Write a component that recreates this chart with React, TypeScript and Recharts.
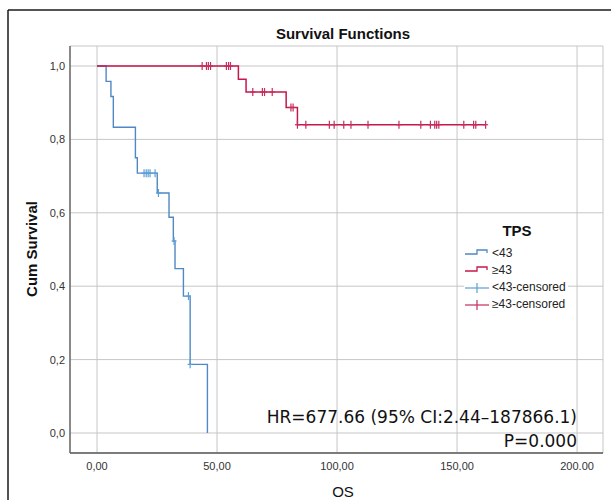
import { ComposedChart, Line, Scatter, XAxis, YAxis, CartesianGrid } from "recharts";

// axis ticks
const xTicks = [0, 50, 100, 150, 200];
const xTickLabels = ["0,00", "50,00", "100,00", "150,00", "200.00"];
const yTicks = [0, 0.2, 0.4, 0.6, 0.8, 1.0];
const yTickLabels = ["0,0", "0,2", "0,4", "0,6", "0,8", "1,0"];

// TPS < 43 : step points (time, cum survival)
const lowTimes = [0, 3.8, 5.8, 6.8, 16.0, 16.8, 25.1, 30.0, 31.8, 32.5, 36.0, 38.8, 46.0];
const lowSurv = [1.0, 0.958, 0.917, 0.833, 0.75, 0.708, 0.654, 0.588, 0.523, 0.448, 0.373, 0.187, 0.0];
const lowCensorTimes = [19.6, 20.5, 21.3, 22.1, 24.2, 25.6, 32.1, 38.1, 38.8];
const lowCensorSurv = [0.708, 0.708, 0.708, 0.708, 0.708, 0.654, 0.523, 0.373, 0.187];

// TPS >= 43
const highTimes = [0, 58.9, 62.1, 78.8, 83.5, 161.9];
const highSurv = [1.0, 0.964, 0.929, 0.887, 0.84, 0.84];
const highCensorTimes = [
  43.8, 45.6, 46.4, 47.3, 53.9, 54.8, 55.6, 64.9, 68.9, 69.8, 73.0, 80.8, 81.7, 83.5, 87.0, 96.8,
  98.8, 102.8, 105.8, 112.9, 125.8, 134.9, 138.9, 140.7, 141.5, 142.4, 152.8, 156.9, 157.8, 161.9,
];
const highCensorSurv = [
  1, 1, 1, 1, 1, 1, 1, 0.929, 0.929, 0.929, 0.929, 0.887, 0.887, 0.84, 0.84, 0.84, 0.84, 0.84,
  0.84, 0.84, 0.84, 0.84, 0.84, 0.84, 0.84, 0.84, 0.84, 0.84, 0.84, 0.84,
];

const legendLabels = ["<43", "≥43", "<43-censored", "≥43-censored"];

const BLUE = "#4f88c4";
const BLUE_CENSOR = "#5c9fd6";
const RED = "#c8174a";
const RED_CENSOR = "#c42e5e";
const TICK_FONT = "'Liberation Sans', Arial, sans-serif";

const toPoints = (ts: number[], ss: number[]) => ts.map((t, i) => ({ t, s: ss[i] }));

function censorShape(color: string) {
  return (props: any) => {
    const { cx, cy } = props;
    return (
      <g stroke={color} strokeWidth={1.2}>
        <line x1={cx} y1={cy - 4} x2={cx} y2={cy + 4} />
        <line x1={cx - 2.5} y1={cy} x2={cx + 2.5} y2={cy} />
      </g>
    );
  };
}

function Overlay() {
  const rowY = [257, 274, 291, 308];
  const colors = [BLUE, RED, BLUE_CENSOR, RED_CENSOR];
  return (
    <svg
      width={611}
      height={500}
      style={{ position: "absolute", left: 0, top: 0, pointerEvents: "none" }}
    >
      <line x1={8} y1={10} x2={611} y2={10} stroke="#1a1a1a" strokeWidth={1.5} />
      <line x1={8} y1={10} x2={8} y2={500} stroke="#1a1a1a" strokeWidth={1.5} />

      <text x={343} y={39} textAnchor="middle" fontFamily={TICK_FONT} fontSize={15} fontWeight="bold" fill="#111">
        Survival Functions
      </text>
      <text
        transform="translate(37,249) rotate(-90)"
        textAnchor="middle"
        fontFamily={TICK_FONT}
        fontSize={15}
        fontWeight="bold"
        fill="#111"
      >
        Cum Survival
      </text>
      <text x={343} y={497} textAnchor="middle" fontFamily={TICK_FONT} fontSize={15} fill="#111">
        OS
      </text>

      {/* legend */}
      <rect x={464} y={217} width={104} height={100} fill="#fff" />
      <text x={517} y={236} textAnchor="middle" fontFamily={TICK_FONT} fontSize={15} fontWeight="bold" fill="#111">
        TPS
      </text>
      {legendLabels.map((label, i) => {
        const y = rowY[i];
        const c = colors[i];
        return (
          <g key={label}>
            {i < 2 ? (
              <path d={`M465,${y - 3} H477 V${y - 7} H487 V${y - 4}`} fill="none" stroke={c} strokeWidth={1.3} />
            ) : (
              <g stroke={c} strokeWidth={1.2}>
                <line x1={465} y1={y - 3} x2={489} y2={y - 3} />
                <line x1={477} y1={y - 8} x2={477} y2={y + 2} />
              </g>
            )}
            <text x={492} y={y} fontFamily={TICK_FONT} fontSize={12} fill="#222">
              {label}
            </text>
          </g>
        );
      })}

      <text x={577} y={423} textAnchor="end" fontFamily="'DejaVu Sans', sans-serif" fontSize={17} fill="#111">
        HR=677.66 (95% CI:2.44–187866.1)
      </text>
      <text x={577} y={447} textAnchor="end" fontFamily="'DejaVu Sans', sans-serif" fontSize={17} fill="#111">
        P=0.000
      </text>
    </svg>
  );
}

export default function App() {
  const lowLine = toPoints(lowTimes, lowSurv);
  const highLine = toPoints(highTimes, highSurv);
  const lowCensor = toPoints(lowCensorTimes, lowCensorSurv);
  const highCensor = toPoints(highCensorTimes, highCensorSurv);

  return (
    <div style={{ position: "absolute", left: 0, top: 0, width: 611, height: 500, background: "#fff" }}>
      <ComposedChart width={611} height={500} margin={{ top: 46, right: 8, bottom: 17, left: 0 }}>
        <CartesianGrid stroke="#c6c6c6" strokeWidth={1} />
        <XAxis
          type="number"
          dataKey="t"
          domain={[-11.25, 210.8]}
          ticks={xTicks}
          allowDataOverflow
          height={30}
          tickLine={false}
          tickSize={7}
          tickMargin={2}
          axisLine={{ stroke: "#5a5a5a", strokeWidth: 1.3 }}
          tick={{ fontSize: 11, fill: "#333", fontFamily: TICK_FONT }}
          tickFormatter={(v: number) => xTickLabels[xTicks.indexOf(v)]}
        />
        <YAxis
          type="number"
          dataKey="s"
          domain={[-0.0545, 1.0545]}
          ticks={yTicks}
          allowDataOverflow
          width={70}
          tickLine={false}
          tickSize={3}
          tickMargin={2}
          axisLine={{ stroke: "#5a5a5a", strokeWidth: 1.3 }}
          tick={{ fontSize: 11, fill: "#333", fontFamily: TICK_FONT }}
          tickFormatter={(v: number) => yTickLabels[yTicks.indexOf(v)]}
        />
        <Line
          data={lowLine}
          dataKey="s"
          type="stepAfter"
          stroke={BLUE}
          strokeWidth={1.4}
          dot={false}
          isAnimationActive={false}
        />
        <Scatter data={lowCensor} dataKey="s" shape={censorShape(BLUE_CENSOR)} isAnimationActive={false} />
        <Line
          data={highLine}
          dataKey="s"
          type="stepAfter"
          stroke={RED}
          strokeWidth={1.5}
          dot={false}
          isAnimationActive={false}
        />
        <Scatter data={highCensor} dataKey="s" shape={censorShape(RED_CENSOR)} isAnimationActive={false} />
      </ComposedChart>
      <Overlay />
    </div>
  );
}
